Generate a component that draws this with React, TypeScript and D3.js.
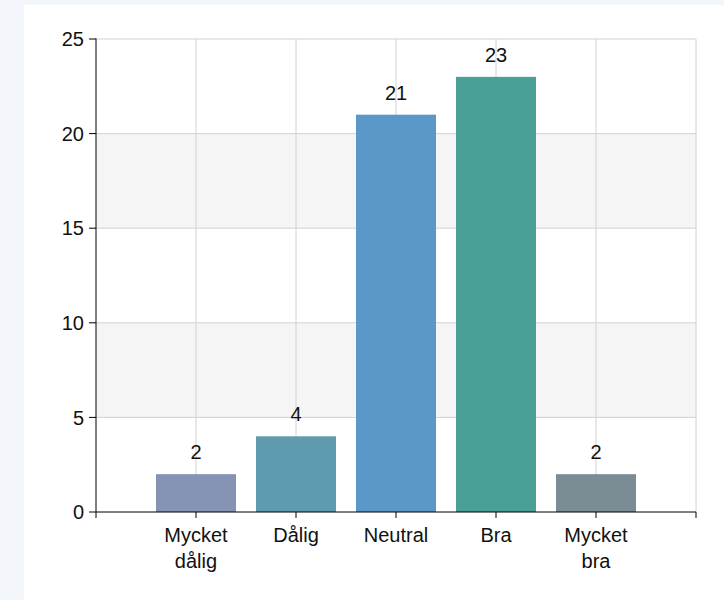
import React from "react";
import * as d3 from "d3";

// Survey answers and their counts
const categories: string[][] = [
  ["Mycket", "dålig"],
  ["Dålig"],
  ["Neutral"],
  ["Bra"],
  ["Mycket", "bra"],
];
const counts: number[] = [2, 4, 21, 23, 2];
const barColors: string[] = ["#8593b4", "#5f9aaf", "#5b98c9", "#4aa097", "#7a8c94"];
const yTicks: number[] = [0, 5, 10, 15, 20, 25];
const shadedBands: [number, number][] = [
  [5, 10],
  [15, 20],
];

const W = 724;
const H = 600;
const margin = { left: 96, right: 28, top: 39, bottom: 88 };
const FONT = "'Liberation Sans', Arial, sans-serif";

export default function App() {
  const plotW = W - margin.left - margin.right;
  const plotH = H - margin.top - margin.bottom;

  // Categories sit at 1..n on a 0..n+1 linear axis
  const x = d3.scaleLinear().domain([0, categories.length + 1]).range([margin.left, margin.left + plotW]);
  const y = d3.scaleLinear().domain([0, 25]).range([margin.top + plotH, margin.top]);
  const xTicks = d3.range(0, categories.length + 2);
  const barW = x(0.8) - x(0);

  return (
    <div style={{ position: "fixed", left: 0, top: 0, width: W, height: H, background: "#f2f6fa" }}>
      <svg width={W} height={H} style={{ display: "block", fontFamily: FONT }}>
        <rect x={24} y={5} width={W - 24} height={H - 5} fill="#ffffff" />

        {shadedBands.map(([a, b], i) => (
          <rect key={i} x={x(0)} y={y(b)} width={plotW} height={y(a) - y(b)} fill="#f5f5f5" />
        ))}

        {/* grid */}
        {yTicks.filter((t) => t > 0).map((t) => (
          <line key={"gy" + t} x1={x(0)} x2={x(categories.length + 1)} y1={y(t)} y2={y(t)} stroke="#d2d2d2" strokeWidth={1} />
        ))}
        {xTicks.filter((t) => t > 0).map((t) => (
          <line key={"gx" + t} x1={x(t)} x2={x(t)} y1={y(0)} y2={y(25)} stroke="#d2d2d2" strokeWidth={1} />
        ))}

        {/* bars */}
        {counts.map((v, i) => (
          <rect key={"b" + i} x={x(i + 1) - barW / 2} y={y(v)} width={barW} height={y(0) - y(v)} fill={barColors[i]} />
        ))}

        {/* value labels */}
        {counts.map((v, i) => (
          <text key={"v" + i} x={x(i + 1)} y={y(v) - 15} textAnchor="middle" fontSize={20} fill="#111">
            {v}
          </text>
        ))}

        {/* y axis */}
        <line x1={x(0)} x2={x(0)} y1={y(25) - 0.5} y2={y(0)} stroke="#000" strokeWidth={1} />
        {yTicks.map((t) => (
          <g key={"yt" + t}>
            <line x1={x(0) - 7} x2={x(0)} y1={y(t)} y2={y(t)} stroke="#000" strokeWidth={1} />
            <text x={x(0) - 12} y={y(t)} dy="0.36em" textAnchor="end" fontSize={20} fill="#111">
              {t}
            </text>
          </g>
        ))}

        {/* x axis */}
        <line x1={x(0)} x2={x(categories.length + 1)} y1={y(0)} y2={y(0)} stroke="#000" strokeWidth={1} />
        {xTicks.map((t) => (
          <line key={"xt" + t} x1={x(t)} x2={x(t)} y1={y(0)} y2={y(0) + 6} stroke="#000" strokeWidth={1} />
        ))}
        {categories.map((lines, i) => (
          <text key={"c" + i} x={x(i + 1)} y={y(0) + 30} textAnchor="middle" fontSize={20} fill="#111">
            {lines.map((l, j) => (
              <tspan key={j} x={x(i + 1)} dy={j === 0 ? 0 : 26}>
                {l}
              </tspan>
            ))}
          </text>
        ))}
      </svg>
    </div>
  );
}
